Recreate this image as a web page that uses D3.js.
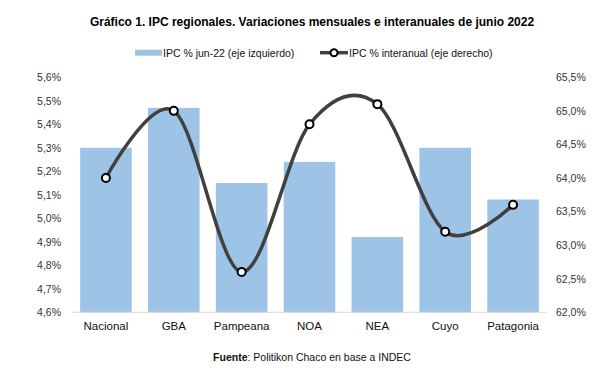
<!DOCTYPE html>
<html><head><meta charset="utf-8">
<script src="https://cdn.jsdelivr.net/npm/d3@7"></script>
<style>body{margin:0;background:#fff}svg{display:block;font-family:"Liberation Sans",Arial,sans-serif}</style>
</head><body><svg id="c" width="612" height="373"></svg>
<script>
const categories = ["Nacional","GBA","Pampeana","NOA","NEA","Cuyo","Patagonia"];
const monthly = [5.30, 5.47, 5.15, 5.24, 4.92, 5.30, 5.08];
const interanual = [64.0, 65.0, 62.6, 64.8, 65.1, 63.2, 63.6];
const leftTicks = [4.6,4.7,4.8,4.9,5.0,5.1,5.2,5.3,5.4,5.5,5.6];
const rightTicks = [62.0,62.5,63.0,63.5,64.0,64.5,65.0,65.5];
const title = "Gráfico 1. IPC regionales. Variaciones mensuales e interanuales de junio 2022";
const legendLabels = ["IPC % jun-22 (eje izquierdo)","IPC % interanual (eje derecho)"];

const svg = d3.select("#c");
const m = {l:72, r:547, t:77.3, b:312.3};
const x = d3.scaleBand().domain(categories).range([m.l, m.r]).paddingInner(0.24).paddingOuter(0.12);
const yL = d3.scaleLinear().domain([4.6,5.6]).range([m.b, m.t]);
const yR = d3.scaleLinear().domain([62,65.5]).range([m.b, m.t]);
const fmt1 = d => d3.format(".1f")(d).replace(".", ",") + "%";

svg.append("text").attr("x",312).attr("y",25.5).attr("text-anchor","middle")
  .attr("font-weight","bold").attr("font-size",12).attr("fill","#000").text(title);

// bars
svg.append("g").selectAll("rect").data(categories).join("rect")
  .attr("x", d => x(d)).attr("width", x.bandwidth())
  .attr("y", (d,i) => yL(monthly[i])).attr("height", (d,i) => m.b - yL(monthly[i]))
  .attr("fill","#9DC3E6");

// baseline
svg.append("line").attr("x1",m.l).attr("x2",m.r).attr("y1",m.b).attr("y2",m.b)
  .attr("stroke","#d9d9d9").attr("stroke-width",1);

// left axis
const gl = svg.append("g").attr("transform",`translate(${m.l},0)`)
  .call(d3.axisLeft(yL).tickValues(leftTicks).tickFormat(fmt1).tickSize(0).tickPadding(11));
gl.select(".domain").remove();
gl.selectAll("text").attr("font-size",10.5).attr("fill","#333").attr("font-family","Liberation Sans, Arial, sans-serif");

// right axis
const gr = svg.append("g").attr("transform",`translate(${m.r},0)`)
  .call(d3.axisRight(yR).tickValues(rightTicks).tickFormat(fmt1).tickSize(0).tickPadding(9));
gr.select(".domain").remove();
gr.selectAll("text").attr("font-size",10.5).attr("fill","#333").attr("font-family","Liberation Sans, Arial, sans-serif");

// bottom axis
const gb = svg.append("g").attr("transform",`translate(0,${m.b})`)
  .call(d3.axisBottom(x).tickSize(0).tickPadding(10));
gb.select(".domain").remove();
gb.selectAll("text").attr("font-size",11.5).attr("fill","#111").attr("font-family","Liberation Sans, Arial, sans-serif");

// line
const line = d3.line().x((d,i) => x(categories[i]) + x.bandwidth()/2).y(d => yR(d))
  .curve(d3.curveCardinal.tension(0));
svg.append("path").datum(interanual).attr("d", line).attr("fill","none")
  .attr("stroke","#404040").attr("stroke-width",3.5).attr("stroke-linecap","round");
svg.append("g").selectAll("circle").data(interanual).join("circle")
  .attr("cx",(d,i) => x(categories[i]) + x.bandwidth()/2).attr("cy", d => yR(d))
  .attr("r",4).attr("fill","#fff").attr("stroke","#000").attr("stroke-width",2);

// legend
const ly = 52.7;
svg.append("rect").attr("x",135).attr("y",ly-3).attr("width",27).attr("height",6).attr("fill","#9DC3E6");
svg.append("text").attr("x",163).attr("y",ly+4).attr("font-size",10.5).attr("fill","#111").text(legendLabels[0]);
svg.append("line").attr("x1",320).attr("x2",348).attr("y1",ly).attr("y2",ly).attr("stroke","#404040").attr("stroke-width",3.5);
svg.append("circle").attr("cx",334).attr("cy",ly).attr("r",3.5).attr("fill","#fff").attr("stroke","#000").attr("stroke-width",2);
svg.append("text").attr("x",349).attr("y",ly+4).attr("font-size",10.5).attr("fill","#111").text(legendLabels[1]);

// source
const src = svg.append("text").attr("x",312).attr("y",361).attr("text-anchor","middle").attr("font-size",10.5).attr("fill","#111");
src.append("tspan").attr("font-weight","bold").text("Fuente");
src.append("tspan").text(": Politikon Chaco en base a INDEC");
</script></body></html>
